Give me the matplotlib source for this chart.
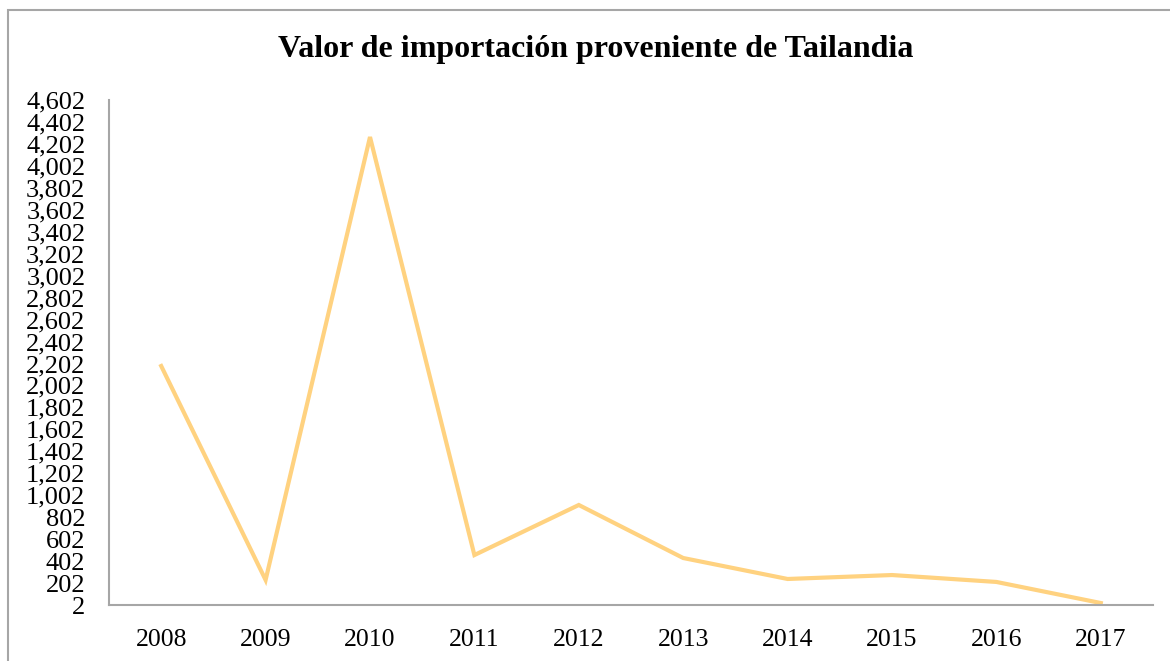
import matplotlib.pyplot as plt
from matplotlib.patches import Rectangle
from matplotlib.ticker import FuncFormatter

# datos
anios = ["2008", "2009", "2010", "2011", "2012", "2013", "2014", "2015", "2016", "2017"]
valores = [2179, 230, 4265, 457, 913, 430, 239, 275, 212, 20]
ticks_y = list(range(2, 4603, 200))

plt.rcParams['font.family'] = ['Liberation Serif', 'DejaVu Serif']

fig = plt.figure(figsize=(11.7, 6.61), dpi=100)
ax = fig.add_axes([109 / 1170, 1 - 605 / 661, (1153 - 109) / 1170, 505 / 661])

# marco exterior
fig.patches.append(Rectangle((8 / 1170, -0.05), 1.1, 1 - 10 / 661 + 0.05,
                             transform=fig.transFigure, fill=False,
                             edgecolor='#a6a6a6', linewidth=1.5))

x = range(len(anios))
ax.plot(x, valores, color='#FFD280', linewidth=3, solid_joinstyle='miter')

ax.set_xlim(-0.5, len(anios) - 0.5)
ax.set_xticks(list(x))
ax.set_xticklabels(anios)
ax.set_ylim(2, 4602)
ax.set_yticks(ticks_y)
ax.yaxis.set_major_formatter(FuncFormatter(lambda v, p: f"{int(v):,}"))

for s in ['top', 'right']:
    ax.spines[s].set_visible(False)
for s in ['left', 'bottom']:
    ax.spines[s].set_color('#a6a6a6')
    ax.spines[s].set_linewidth(1.5)

ax.tick_params(axis='both', length=0)
ax.tick_params(axis='y', pad=17, labelsize=19)
ax.tick_params(axis='x', pad=17, labelsize=18.5)

fig.text(596 / 1170, 1 - 50 / 661, "Valor de importación proveniente de Tailandia",
         ha='center', va='center', fontsize=23, fontweight='bold')

plt.savefig("out.png", dpi=100)
